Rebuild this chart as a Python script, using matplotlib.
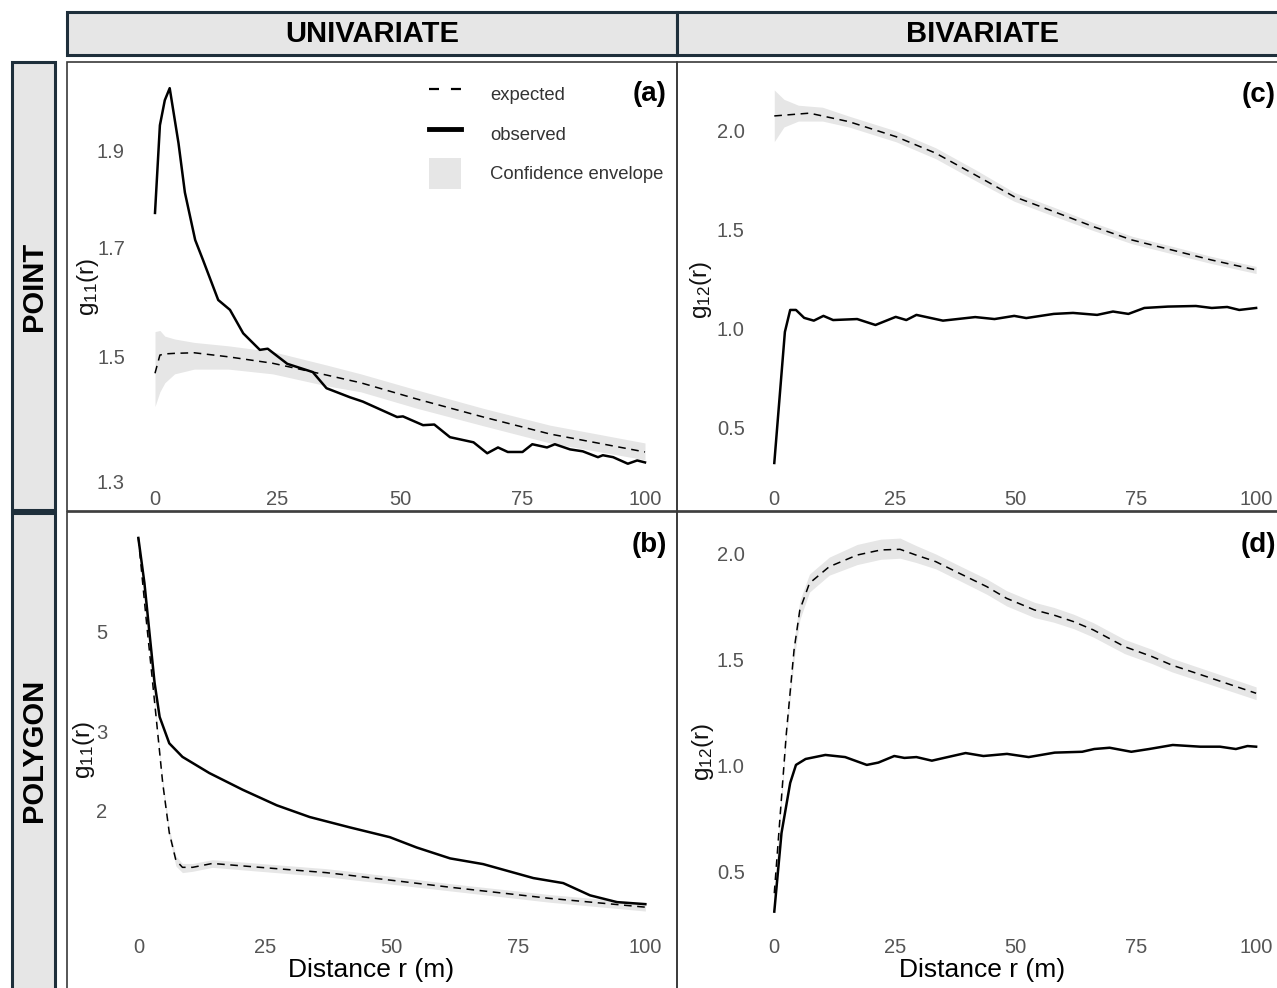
import matplotlib
matplotlib.use("Agg")
import matplotlib.pyplot as plt
from matplotlib.patches import Rectangle, Patch
from matplotlib.lines import Line2D
from matplotlib.ticker import NullLocator

# ---- data ----
ticks_r = [0, 25, 50, 75, 100]

# (a) point, univariate
a_obs_r = [0, 1, 2, 3, 4.8, 6.1, 8.2, 9.8, 12.9, 15.3, 18, 21.4, 23, 27, 32.2, 35, 39.8, 42.4,
           49.4, 50.6, 54.7, 57, 60.2, 65, 67.8, 70, 72, 75, 77, 80, 81.6, 84.7, 87.3, 90.4,
           91.4, 93.5, 96.5, 98.4, 100]
a_obs = [1.768, 1.955, 2.012, 2.04, 1.915, 1.81, 1.714, 1.675, 1.60, 1.582, 1.54, 1.511, 1.513,
         1.487, 1.473, 1.446, 1.431, 1.424, 1.399, 1.40, 1.386, 1.387, 1.367, 1.359, 1.342, 1.351,
         1.344, 1.344, 1.356, 1.351, 1.356, 1.348, 1.345, 1.336, 1.339, 1.336, 1.326, 1.331, 1.328]
a_exp_r = [0, 1, 2, 4, 8, 15, 24, 35, 42, 53.5, 67, 80.6, 100]
a_exp = [1.471, 1.502, 1.504, 1.505, 1.506, 1.499, 1.488, 1.468, 1.455, 1.428, 1.399, 1.372, 1.344]
a_lo = [1.416, 1.44, 1.455, 1.47, 1.478, 1.478, 1.47, 1.45, 1.44, 1.413, 1.385, 1.358, 1.332]
a_hi = [1.543, 1.545, 1.535, 1.53, 1.524, 1.518, 1.508, 1.485, 1.47, 1.443, 1.413, 1.386, 1.358]

# (b) polygon, univariate
b_obs_r = [0, 1.2, 2.2, 3.2, 4.2, 6.1, 8.7, 14, 20.6, 27.3, 33.8, 41.7, 49.6, 54.9, 61.5, 68,
           77.9, 83.8, 89.1, 94.4, 100]
b_obs = [8.11, 6.43, 4.97, 3.85, 3.23, 2.82, 2.63, 2.42, 2.22, 2.05, 1.93, 1.83, 1.74, 1.65,
         1.56, 1.515, 1.41, 1.374, 1.29, 1.246, 1.233]
b_exp_r = [0, 1.5, 2.5, 3.5, 4.8, 6.1, 7.4, 8.7, 10.7, 14.6, 24, 37, 41.7, 61.5, 81.2, 100]
b_exp = [8.11, 5.4, 4.18, 3.23, 2.30, 1.78, 1.546, 1.49, 1.49, 1.52, 1.49, 1.45, 1.43, 1.345, 1.27, 1.214]
b_lo = [8.0, 5.3, 4.1, 3.17, 2.25, 1.74, 1.50, 1.45, 1.46, 1.49, 1.46, 1.42, 1.40, 1.32, 1.245, 1.19]
b_hi = [8.2, 5.5, 4.26, 3.29, 2.35, 1.82, 1.58, 1.52, 1.52, 1.55, 1.52, 1.48, 1.46, 1.37, 1.295, 1.24]

# (c) point, bivariate
c_obs_r = [0, 2.2, 3.3, 4.5, 6.2, 8.2, 10.2, 12.2, 17.2, 21, 25.2, 27.4, 29.5, 35, 41.7, 45.7,
           49.8, 52.3, 58, 62, 67, 70.3, 73.5, 76.8, 81.7, 87.5, 90.8, 94, 96.5, 100]
c_obs = [0.323, 0.985, 1.096, 1.096, 1.056, 1.042, 1.066, 1.045, 1.05, 1.02, 1.061, 1.045, 1.071,
         1.042, 1.06, 1.05, 1.066, 1.055, 1.076, 1.081, 1.071, 1.088, 1.076, 1.106, 1.113, 1.116,
         1.106, 1.111, 1.096, 1.106]
c_exp_r = [0, 7.3, 15.5, 25.3, 33.5, 41.7, 49.8, 58, 66.2, 74.3, 82.5, 90.8, 100]
c_exp = [2.076, 2.09, 2.047, 1.971, 1.888, 1.778, 1.668, 1.593, 1.517, 1.449, 1.399, 1.348, 1.298]
c_env_r = [0, 2, 5, 10, 15.5, 25.3, 33.5, 41.7, 49.8, 58, 66.2, 74.3, 82.5, 90.8, 100]
c_lo = [1.946, 2.02, 2.05, 2.05, 2.02, 1.945, 1.86, 1.75, 1.645, 1.57, 1.497, 1.43, 1.38, 1.33, 1.28]
c_hi = [2.207, 2.16, 2.13, 2.12, 2.075, 2.0, 1.915, 1.805, 1.69, 1.615, 1.537, 1.468, 1.418, 1.366, 1.316]

# (d) polygon, bivariate
d_obs_r = [0, 1.5, 3.3, 4.5, 6.5, 10.6, 14.7, 19.2, 21.6, 24.9, 27, 29.5, 32.7, 36, 39.7, 43.4,
           48.3, 52.8, 58.2, 63.9, 66.4, 69.6, 74.1, 77.8, 82.7, 88.4, 92.5, 95.8, 98.2, 100]
d_obs = [0.313, 0.684, 0.92, 1.005, 1.033, 1.052, 1.042, 1.005, 1.016, 1.047, 1.038, 1.042, 1.025,
         1.042, 1.061, 1.047, 1.057, 1.042, 1.063, 1.067, 1.08, 1.086, 1.067, 1.08, 1.099, 1.091,
         1.091, 1.08, 1.094, 1.091]
d_exp_r = [0, 2.5, 4.1, 5.3, 7.3, 11.4, 17.2, 22.1, 26.1, 29.4, 33.5, 38.4, 44.1, 48.2, 54, 58,
           62.1, 66.2, 72.7, 78.4, 82.5, 90.7, 100]
d_exp = [0.40, 1.154, 1.547, 1.736, 1.862, 1.94, 1.995, 2.019, 2.022, 1.995, 1.964, 1.909, 1.846,
         1.791, 1.736, 1.712, 1.681, 1.642, 1.563, 1.516, 1.476, 1.414, 1.343]
d_lo = [0.38, 1.12, 1.50, 1.69, 1.82, 1.90, 1.95, 1.975, 1.98, 1.96, 1.93, 1.875, 1.81, 1.755,
        1.70, 1.678, 1.648, 1.608, 1.53, 1.483, 1.444, 1.383, 1.313]
d_hi = [0.42, 1.19, 1.59, 1.78, 1.905, 1.985, 2.045, 2.07, 2.075, 2.04, 2.0, 1.945, 1.882, 1.827,
        1.772, 1.748, 1.716, 1.676, 1.597, 1.55, 1.508, 1.445, 1.373]

W, H = 1277, 988
plt.rcParams['font.family'] = ['Liberation Sans', 'DejaVu Sans']
plt.rcParams['mathtext.fontset'] = 'custom'
plt.rcParams['mathtext.rm'] = 'Liberation Sans'
plt.rcParams['lines.scale_dashes'] = False

ENV = '#e6e6e6'
STRIP_EDGE = '#1e2f3b'
TICK_COL = '#555555'

fig = plt.figure(figsize=(W / 100, H / 100), dpi=100)


def fx(x):
    return x / W


def fy(y):
    return 1 - y / H


def box(x0, y0, x1, y1, **kw):
    fig.add_artist(Rectangle((fx(x0), fy(y1)), (x1 - x0) / W, (y1 - y0) / H,
                             transform=fig.transFigure, clip_on=False, **kw))


def panel(x0, y0, x1, y1):
    return fig.add_axes([fx(x0), fy(y1), (x1 - x0) / W, (y1 - y0) / H])


def draw(ax, env_r, lo, hi, exp_r, exp_v, obs_r, obs_v, ylim, yticks, ylabels, log=False):
    ax.fill_between(env_r, lo, hi, color=ENV, lw=0)
    ax.plot(exp_r, exp_v, color='black', lw=1.1, ls=(0, (5.5, 4)))
    ax.plot(obs_r, obs_v, color='black', lw=1.8)
    if log:
        ax.set_yscale('log')
    ax.set_xlim(-5, 105)
    ax.set_ylim(*ylim)
    ax.set_xticks(ticks_r)
    ax.set_yticks(yticks)
    ax.set_yticklabels(ylabels)
    ax.yaxis.set_minor_locator(NullLocator())
    for s in ax.spines.values():
        s.set_visible(False)
    ax.tick_params(length=0, labelsize=14.5, labelcolor=TICK_COL)
    ax.tick_params(axis='x', pad=6.5)
    ax.tick_params(axis='y', pad=4)
    ax.patch.set_alpha(0)


# cell frames
for (x0, y0, x1, y1) in [(67, 62, 677, 511), (67, 512, 677, 995),
                         (677, 62, 1290, 511), (677, 512, 1290, 995)]:
    box(x0, y0, x1, y1, fill=False, ec='#3a3a3a', lw=1.2)

# strips
box(67, 12, 677, 55, fc=ENV, ec=STRIP_EDGE, lw=2.2)
box(677, 12, 1290, 55, fc=ENV, ec=STRIP_EDGE, lw=2.2)
box(12, 62, 55, 510, fc=ENV, ec=STRIP_EDGE, lw=2.2)
box(12, 513, 55, 995, fc=ENV, ec=STRIP_EDGE, lw=2.2)
sk = dict(ha='center', va='center', fontsize=21, weight='bold', color='black')
fig.text(fx(372), fy(34), 'UNIVARIATE', **sk)
fig.text(fx(982), fy(34), 'BIVARIATE', **sk)
fig.text(fx(33.5), fy(286), 'POINT', rotation=90, **sk)
fig.text(fx(33.5), fy(750), 'POLYGON', rotation=90, **sk)

ax_a = panel(130.5, 70, 669.5, 481)
draw(ax_a, a_exp_r, a_lo, a_hi, a_exp_r, a_exp, a_obs_r, a_obs, (1.3, 2.083),
     [1.3, 1.5, 1.7, 1.9], ['1.3', '1.5', '1.7', '1.9'], log=True)

ax_b = panel(113, 519, 670.7, 929)
draw(ax_b, b_exp_r, b_lo, b_hi, b_exp_r, b_exp, b_obs_r, b_obs, (1.085, 8.94),
     [2, 3, 5], ['2', '3', '5'], log=True)

ax_c = panel(750.2, 70, 1280.2, 481)
draw(ax_c, c_env_r, c_lo, c_hi, c_exp_r, c_exp, c_obs_r, c_obs, (0.232, 2.308),
     [0.5, 1.0, 1.5, 2.0], ['0.5', '1.0', '1.5', '2.0'])

ax_d = panel(750.2, 519, 1280.2, 929)
draw(ax_d, d_exp_r, d_lo, d_hi, d_exp_r, d_exp, d_obs_r, d_obs, (0.231, 2.165),
     [0.5, 1.0, 1.5, 2.0], ['0.5', '1.0', '1.5', '2.0'])

# axis titles
yl = dict(ha='center', va='center', rotation=90, fontsize=17.5, color='#111111')
fig.text(fx(88), fy(287), r'$\mathregular{g_{11}(r)}$', **yl)
fig.text(fx(84), fy(750), r'$\mathregular{g_{11}(r)}$', **yl)
fig.text(fx(701), fy(290), r'$\mathregular{g_{12}(r)}$', **yl)
fig.text(fx(703), fy(752), r'$\mathregular{g_{12}(r)}$', **yl)
fig.text(fx(371.5), fy(970), 'Distance r (m)', ha='center', va='center', fontsize=19)
fig.text(fx(982), fy(970), 'Distance r (m)', ha='center', va='center', fontsize=19)

# panel tags
tg = dict(ha='right', va='center', fontsize=20, weight='bold')
fig.text(fx(667), fy(94), '(a)', **tg)
fig.text(fx(667), fy(545), '(b)', **tg)
fig.text(fx(1276), fy(95), '(c)', **tg)
fig.text(fx(1276), fy(545), '(d)', **tg)

# legend
handles = [Line2D([], [], color='black', lw=1.6, ls=(0, (7.2, 8.6))),
           Line2D([], [], color='black', lw=3.5),
           Patch(fc=ENV, ec='none')]
ax_a.legend(handles, ['expected', 'observed', 'Confidence envelope'],
            loc='upper left', bbox_to_anchor=(fx(428.5), fy(78.8)),
            bbox_transform=fig.transFigure, frameon=False, fontsize=13.3,
            labelcolor='#333333', handlelength=1.75, handleheight=2.2,
            handletextpad=1.6, labelspacing=0.47, borderpad=0, borderaxespad=0)

fig.savefig('out.png', dpi=100)
